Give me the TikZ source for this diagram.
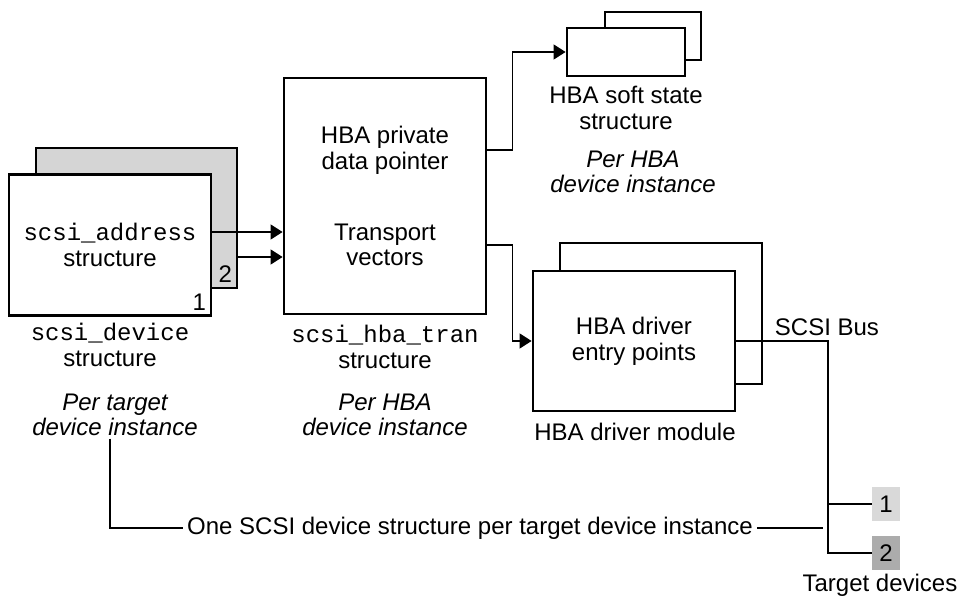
\documentclass[tikz,border=0pt]{standalone}
\usepackage{fontspec}
\setmainfont{Liberation Sans}
\setmonofont{Liberation Mono}
\usetikzlibrary{positioning,arrows.meta}

\tikzset{
  box/.style={rectangle,draw,line width=1.4pt,fill=white,inner sep=0pt},
  lbl/.style={align=center,inner sep=1pt},
  wire/.style={line width=0.65pt},
  arr/.style={wire,-{Triangle[length=6pt,width=7.5pt]}}
}

\begin{document}
\begin{tikzpicture}[x=0.5pt,y=-0.5pt,font=\fontsize{12}{12.8}\selectfont]
	\useasboundingbox (0,0) rectangle (966,599);
	\begin{scope}[every node/.style={box}]
		\node[fill=gray!33,minimum width=100.5pt,minimum height=70pt] (devb) at (136.5,218) {};
		\node[minimum width=101pt,minimum height=70.5pt,align=center] (devf) at (110,245) {\texttt{scsi\_address}\\structure};
		\node[minimum width=101pt,minimum height=118pt] (tran) at (385,196) {};
		\node[minimum width=48pt,minimum height=24pt] (softb) at (653,36) {};
		\node[minimum width=59pt,minimum height=24pt] (softf) at (626,52) {};
		\node[minimum width=101pt,minimum height=70.5pt] (drvb) at (661,313.5) {};
		\node[minimum width=101pt,minimum height=70pt,align=center] (drvf) at (634,341) {HBA driver\\entry points};
	\end{scope}
	\begin{scope}[every node/.style={rectangle,inner sep=0pt,minimum width=14pt,minimum height=17pt}]
		\node[fill=gray!30] (tgt1) at (886,504) {1};
		\node[fill=gray!65] (tgt2) at (886,553) {2};
	\end{scope}
	% texts
	\node[anchor=south east,inner sep=3pt] (n1) at (devf.south east) {1};
	\node[anchor=south east,inner sep=3pt] (n2) at (devb.south east) {2};
	\node[lbl] (priv) at (385,150) {HBA private\\data pointer};
	\node[lbl] (tvec) at (385,245) {Transport\\vectors};
	\node[lbl] (devlbl) at (110,345) {\texttt{scsi\_device}\\structure};
	\node[lbl,font=\fontsize{12}{12.8}\selectfont\itshape] (ptgt) at (115,415) {Per target\\device instance};
	\node[lbl] (tranlbl) at (385,347) {\texttt{scsi\_hba\_tran}\\structure};
	\node[lbl,font=\fontsize{12}{12.8}\selectfont\itshape] (phba) at (385,415) {Per HBA\\device instance};
	\node[lbl] (softlbl) at (626,108) {HBA soft state\\structure};
	\node[lbl,font=\fontsize{12}{12.8}\selectfont\itshape] (psoft) at (633,172) {Per HBA\\device instance};
	\node[lbl] (drvlbl) at (635,432) {HBA driver module};
	\node[lbl] (buslbl) at (827,327) {SCSI Bus};
	\node[lbl] (tgtlbl) at (880,585) {Target devices};
	\node[lbl,inner sep=2pt] (note) at (470,528) {One SCSI device structure per target device instance};
	\coordinate (bus) at (828,341);
	\coordinate (gap) at (823,528);
	% connectors
	\draw[arr] (devf.east |- 0,232) -- (tran.west |- 0,232);
	\draw[arr] (devb.east |- 0,257) -- (tran.west |- 0,257);
	\draw[arr] (tran.east |- priv) -- ++(25,0) |- (softf.west);
	\draw[arr] (tran.east |- tvec) -- ++(25,0) |- (drvf.west);
	\draw[wire] (drvf.east) -- (bus) |- (tgt2.west);
	\draw[wire] (bus |- tgt1.west) -- (tgt1.west);
	\draw[wire] (ptgt.south -| 110,0) |- (note.west);
	\draw[wire] (note.east) -- (gap);
\end{tikzpicture}
\end{document}
